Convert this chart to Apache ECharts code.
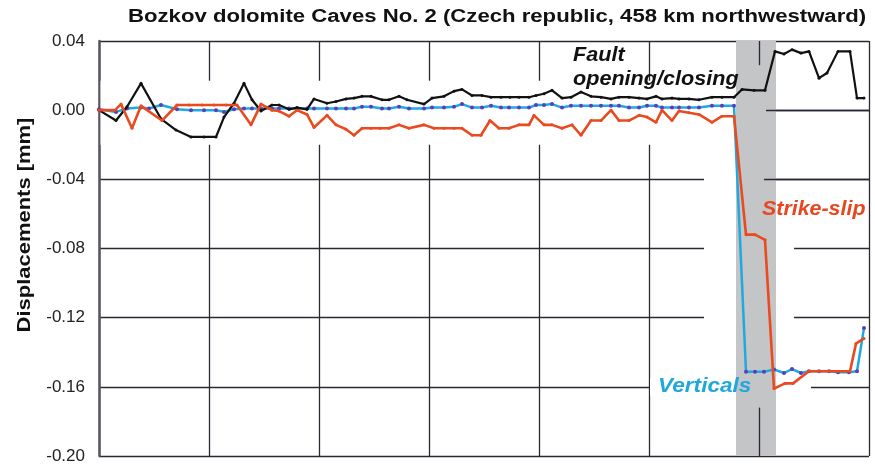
<!DOCTYPE html>
<html>
<head>
<meta charset="utf-8">
<title>Bozkov dolomite Caves No. 2</title>
<script src="https://cdn.jsdelivr.net/npm/echarts@6/dist/echarts.min.js"></script>
<style>
  html, body { margin: 0; padding: 0; background: #fff; }
  #chart { width: 875px; height: 465px; }
</style>
</head>
<body>
<div id="chart"></div>
<script>
// time axis is unitless (7 grid cells of 11 units), values in mm
const yTicks = [0.04, 0.00, -0.04, -0.08, -0.12, -0.16, -0.20];

// fault opening/closing (black)
const faultT = [0, 1.7, 2.8, 4.2, 6.2, 7.7, 9.2, 10.5, 11.7, 12.5, 13.5, 14.5, 15.3, 16.2, 17.3, 18.0, 19.0, 19.8, 20.8, 21.5,
  22.8, 23.7, 24.7, 25.5, 26.3, 27.2, 28.3, 29.0, 30.0, 30.8, 32.5, 33.3, 34.5, 35.5, 36.3, 37.3, 38.3, 39.2, 40.2, 41.1,
  42.0, 43.0, 43.7, 44.5, 45.3, 46.3, 47.2, 48.2, 49.2, 50.2, 51.2, 52.0, 53.0, 54.0, 54.8, 55.7, 56.3, 57.3, 58.0, 59.0,
  60.0, 61.3, 62.3, 63.5, 64.3, 65.5, 66.6, 67.6, 68.5, 69.3, 70.2, 71.0, 72.0, 72.8, 73.9, 75.1, 75.8, 76.5];
const faultV = [0, -0.006, 0.002, 0.0155, -0.005, -0.0115, -0.0155, -0.0155, -0.0155, -0.004, 0.004, 0.0155, 0.006, -0.0005, 0.003, 0.003, 0.0005, 0.0015, 0.0005, 0.0065,
  0.004, 0.005, 0.0065, 0.007, 0.008, 0.008, 0.006, 0.006, 0.008, 0.006, 0.0035, 0.007, 0.008, 0.011, 0.012, 0.0085, 0.0085, 0.0075, 0.0075, 0.0075,
  0.0075, 0.0075, 0.0085, 0.0095, 0.0115, 0.007, 0.0075, 0.0105, 0.008, 0.0075, 0.0065, 0.0075, 0.0075, 0.007, 0.0065, 0.008, 0.0065, 0.007, 0.0065, 0.0065,
  0.006, 0.0075, 0.0075, 0.0075, 0.012, 0.0115, 0.0115, 0.034, 0.0325, 0.035, 0.033, 0.034, 0.0185, 0.0215, 0.034, 0.034, 0.007, 0.007];

// strike-slip (red)
const strikeT = [0, 1.6, 2.2, 3.3, 4.2, 6.3, 7.8, 9.0, 10.3, 11.5, 12.7, 13.8, 15.2, 16.2, 17.3, 18.0, 19.0, 19.8, 20.8, 21.5,
  22.8, 23.7, 24.7, 25.5, 26.3, 27.2, 28.1, 29.0, 30.0, 31.0, 32.5, 33.5, 34.5, 35.5, 36.3, 37.3, 38.2, 39.1, 40.0, 41.0,
  42.0, 43.0, 43.5, 44.5, 45.3, 46.3, 47.3, 48.2, 49.2, 50.2, 51.2, 52.0, 53.0, 54.0, 54.8, 55.7, 56.3, 57.3, 58.0, 59.0,
  60.0, 61.3, 62.3, 63.5, 64.7, 65.6, 66.6, 67.5, 68.6, 69.4, 71.0, 72.0, 73.0, 73.9, 75.1, 75.7, 76.5];
const strikeV = [0, 0, 0.0035, -0.0105, 0.0025, -0.006, 0.003, 0.003, 0.003, 0.003, 0.003, 0.003, -0.0085, 0.0035, 0, -0.0005, -0.0035, 0, -0.0025, -0.01,
  -0.003, -0.0085, -0.011, -0.0145, -0.0105, -0.0105, -0.0105, -0.0105, -0.0085, -0.0105, -0.0085, -0.0105, -0.0105, -0.0105, -0.0105, -0.0145, -0.0145, -0.006, -0.0105, -0.0105,
  -0.0085, -0.0085, -0.003, -0.0085, -0.0085, -0.0105, -0.0085, -0.0145, -0.006, -0.006, 0, -0.006, -0.006, -0.003, -0.004, -0.007, 0, -0.006, -0.0005, -0.0015,
  -0.0025, -0.007, -0.0035, -0.0035, -0.072, -0.072, -0.075, -0.161, -0.158, -0.158, -0.151, -0.151, -0.151, -0.151, -0.151, -0.135, -0.132];

// verticals (cyan)
const vertT = [0, 1.7, 2.8, 4.2, 5.0, 6.2, 7.8, 9.2, 10.5, 11.7, 12.5, 13.5, 14.5, 15.3, 16.2, 17.3, 18.0, 19.0, 19.8, 20.8,
  21.5, 22.8, 23.7, 24.7, 25.5, 26.3, 27.2, 28.3, 29.0, 30.0, 31.0, 32.5, 33.3, 34.5, 35.5, 36.3, 37.3, 38.3, 39.2, 40.2,
  41.0, 42.0, 43.0, 43.7, 44.5, 45.3, 46.3, 47.2, 48.2, 49.2, 50.2, 51.2, 52.0, 53.0, 54.0, 54.8, 55.7, 56.3, 57.3, 58.0,
  59.0, 60.0, 61.3, 62.3, 63.5, 64.7, 65.6, 66.5, 67.5, 68.5, 69.3, 70.2, 71.0, 72.0, 73.0, 73.9, 75.0, 75.8, 76.5];
const vertV = [0.0005, -0.001, 0.001, 0.0015, 0.001, 0.003, 0.0005, 0, 0, 0, -0.001, 0.0005, 0.001, 0.001, 0.001, 0.001, 0.001, 0.001, 0.001, 0.001,
  0.001, 0.001, 0.001, 0.001, 0.001, 0.002, 0.002, 0.001, 0.001, 0.002, 0.001, 0.001, 0.0015, 0.0015, 0.002, 0.0035, 0.0015, 0.0015, 0.0025, 0.0015,
  0.0015, 0.0015, 0.0015, 0.003, 0.003, 0.0035, 0.0015, 0.0025, 0.0025, 0.0025, 0.0025, 0.0025, 0.0025, 0.0015, 0.0015, 0.0025, 0.0025, 0.0015, 0.0015, 0.0015,
  0.0015, 0.0015, 0.0025, 0.0025, 0.0025, -0.1513, -0.1513, -0.1513, -0.150, -0.152, -0.1497, -0.152, -0.151, -0.151, -0.151, -0.1515, -0.1515, -0.151, -0.126];

// earthquake period (grey band)
const bandT = [63.7, 67.7];

const zip = (t, v) => t.map((x, i) => [x, v[i]]);
const font = '"Liberation Sans", Arial, sans-serif';
const gridColor = '#2b2733';

const chart = echarts.init(document.getElementById('chart'));
chart.setOption({
  animation: false,
  grid: { left: 99, right: 6, top: 41, bottom: 9 },
  xAxis: {
    type: 'value', min: 0, max: 77, interval: 11,
    axisLabel: { show: false }, axisTick: { show: false }, axisLine: { show: false },
    splitLine: { show: true, lineStyle: { color: gridColor, width: 1.3 } }
  },
  yAxis: {
    type: 'value', min: -0.20, max: 0.04, interval: 0.04,
    axisLine: { show: true, lineStyle: { color: '#5a5560', width: 2.5 } },
    axisTick: { show: false },
    axisLabel: {
      margin: 14, fontFamily: font, fontSize: 17, color: '#222',
      formatter: v => {
        const hit = yTicks.find(t => Math.abs(t - v) < 1e-9);
        return (hit === undefined ? v : hit).toFixed(2).replace('-0.00', '0.00');
      }
    },
    splitLine: { show: true, lineStyle: { color: gridColor, width: 1.3 } }
  },
  graphic: [
    {
      // title: the original face is wider than Liberation Sans, so stretch it a bit
      type: 'text', x: 128, y: 8, scaleX: 1.23,
      style: { text: 'Bozkov dolomite Caves No. 2 (Czech republic, 458 km northwestward)', font: 'bold 18px ' + font, fill: '#111' }
    },
    {
      type: 'text', x: 25, y: 225, rotation: Math.PI / 2, scaleX: 1.22,
      style: { text: 'Displacements [mm]', font: 'bold 18px ' + font, fill: '#111', align: 'center', verticalAlign: 'middle' }
    },
    {
      type: 'text', x: 573, y: 43, z: 10, scaleX: 1.08,
      style: { text: 'Fault\nopening/closing', font: 'italic bold 20px ' + font, fill: '#111', lineHeight: 24 }
    },
    {
      type: 'text', x: 762, y: 199, z: 10, scaleX: 1.07,
      style: { text: 'Strike-slip', font: 'italic bold 20px ' + font, fill: '#e8461f' }
    },
    {
      type: 'text', x: 658, y: 376, z: 10, scaleX: 1.13,
      style: { text: 'Verticals', font: 'italic bold 20px ' + font, fill: '#1ea8dd' }
    }
  ],
  series: [
    {
      // white knock-outs of the grid behind the data and labels
      type: 'line', data: [], z: 1, silent: true,
      markArea: {
        silent: true,
        itemStyle: { color: '#fff' },
        data: [
          [{ coord: [0.15, 0.017] }, { coord: [bandT[0], -0.02] }],
          [{ coord: [60.5, -0.03] }, { coord: [bandT[0], -0.13] }],
          [{ coord: [bandT[1], -0.07] }, { coord: [69.5, -0.13] }],
          [{ coord: [55.1, -0.155] }, { coord: [71.2, -0.165] }]
        ]
      }
    },
    {
      type: 'line', data: [], z: 1.2, silent: true,
      markArea: {
        silent: true,
        itemStyle: { color: '#c4c5c7' },
        data: [[{ coord: [bandT[0], 0.04] }, { coord: [bandT[1], -0.20] }]]
      },
      markLine: {
        silent: true, symbol: 'none', label: { show: false },
        lineStyle: { color: gridColor, width: 1.3, type: 'solid' },
        data: [
          [{ coord: [66, 0.04] }, { coord: [66, 0.026] }],
          [{ coord: [66, -0.172] }, { coord: [66, -0.20] }],
          [{ coord: [66.7, 0] }, { coord: [77, 0] }],
          [{ coord: [66.5, -0.04] }, { coord: [77, -0.04] }]
        ]
      }
    },
    {
      name: 'Verticals', type: 'line', z: 3, data: zip(vertT, vertV),
      lineStyle: { color: '#1eaadf', width: 2.5 },
      symbol: 'circle', symbolSize: 4,
      itemStyle: { color: '#5b3dbd' }
    },
    {
      name: 'Fault opening/closing', type: 'line', z: 4, data: zip(faultT, faultV),
      lineStyle: { color: '#111', width: 2.2 },
      symbol: 'circle', symbolSize: 3,
      itemStyle: { color: '#111' }
    },
    {
      name: 'Strike-slip', type: 'line', z: 5, data: zip(strikeT, strikeV),
      lineStyle: { color: '#ea4a1f', width: 2.6 },
      symbol: 'circle', symbolSize: 3,
      itemStyle: { color: '#ea4a1f' }
    }
  ]
});
</script>
</body>
</html>
